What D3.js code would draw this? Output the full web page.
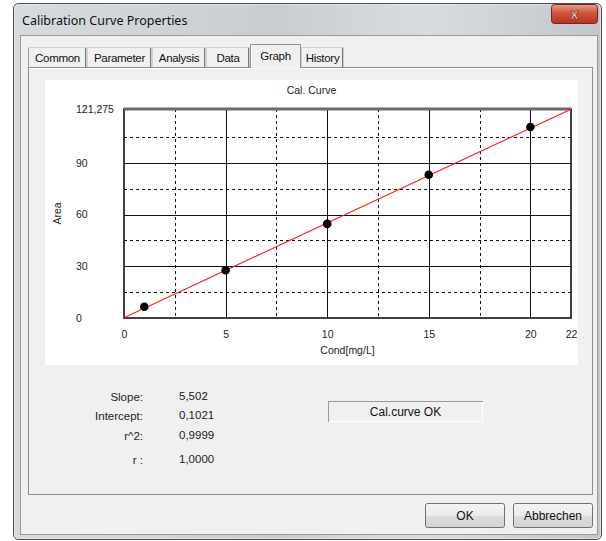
<!DOCTYPE html>
<html><head><meta charset="utf-8">
<script src="https://cdn.jsdelivr.net/npm/d3@7"></script>
<style>
html,body{margin:0;padding:0;background:#fff;}
svg{display:block;font-family:"Liberation Sans",Arial,sans-serif;}
</style></head>
<body>
<svg id="c" width="606" height="541"></svg>
<script>
// ---- data ----
const conc = [1, 5, 10, 15, 20];
const area = [6.5, 27.7, 54.6, 83.1, 110.8];
const slope = 5.502;
const intercept = 0.1021;
const xTicks = [0, 5, 10, 15, 20, 22];
const xMinor = [2.5, 7.5, 12.5, 17.5];
const yTicks = [0, 30, 60, 90, 121.275];
const yTickLabels = ["0", "30", "60", "90", "121,275"];
const yMinor = [15, 45, 75, 105];
const tabs = ["Common", "Parameter", "Analysis", "Data", "Graph", "History"];
const statLabels = ["Slope:", "Intercept:", "r^2:", "r :"];
const statValues = ["5,502", "0,1021", "0,9999", "1,0000"];

const svg = d3.select("#c");
const defs = svg.append("defs");
const tg = defs.append("linearGradient").attr("id","title").attr("x1",0).attr("y1",0).attr("x2",1).attr("y2",0);
tg.append("stop").attr("offset","0").attr("stop-color","#d6dbe0");
tg.append("stop").attr("offset","0.45").attr("stop-color","#c9cdd2");
tg.append("stop").attr("offset","0.7").attr("stop-color","#d9dcdf");
tg.append("stop").attr("offset","1").attr("stop-color","#c2c6cb");
const cg = defs.append("linearGradient").attr("id","close").attr("x1",0).attr("y1",0).attr("x2",0).attr("y2",1);
cg.append("stop").attr("offset","0").attr("stop-color","#e8a08e");
cg.append("stop").attr("offset","0.45").attr("stop-color","#d0543c");
cg.append("stop").attr("offset","1").attr("stop-color","#b8321e");
const bg = defs.append("linearGradient").attr("id","btn").attr("x1",0).attr("y1",0).attr("x2",0).attr("y2",1);
bg.append("stop").attr("offset","0").attr("stop-color","#f4f4f4");
bg.append("stop").attr("offset","0.5").attr("stop-color","#ebebeb");
bg.append("stop").attr("offset","0.51").attr("stop-color","#dddddd");
bg.append("stop").attr("offset","1").attr("stop-color","#d3d3d3");

// window frame
svg.append("rect").attr("x",13.5).attr("y",3.5).attr("width",588).attr("height",536).attr("rx",5)
  .attr("fill","url(#title)").attr("stroke","#4a4a4a");
svg.append("rect").attr("x",14.5).attr("y",4.5).attr("width",586).attr("height",534).attr("rx",4)
  .attr("fill","none").attr("stroke","#eef0f2").attr("stroke-opacity",0.6);
// client area
svg.append("rect").attr("x",20.5).attr("y",35.5).attr("width",577).attr("height",499)
  .attr("fill","#f0f0f0").attr("stroke","#9a9a9a");
svg.append("text").attr("x",22).attr("y",25).attr("font-family","'Noto Sans','Open Sans',sans-serif")
  .attr("font-size",12.5).attr("fill","#111").text("Calibration Curve Properties");
// close button
svg.append("rect").attr("x",551.5).attr("y",4.5).attr("width",46).attr("height",19).attr("rx",3)
  .attr("fill","url(#close)").attr("stroke","#6b2a20");
svg.append("text").attr("x",574.5).attr("y",19).attr("text-anchor","middle").attr("font-size",14)
  .attr("font-weight","bold").attr("fill","#fff").attr("stroke","#5a1a10").attr("stroke-width",0.6).text("x");

// tab panel
svg.append("rect").attr("x",28.5).attr("y",67.5).attr("width",564).attr("height",427)
  .attr("fill","#f0f0f0").attr("stroke","#8e8e8e");
svg.append("line").attr("x1",29.5).attr("x2",591.5).attr("y1",68.5).attr("y2",68.5).attr("stroke","#fff");

// tabs
const tabX = [28, 87, 152, 206, 250, 301, 344];
tabs.forEach((t,i)=>{
  const x0 = tabX[i], x1 = tabX[i+1];
  const sel = t === "Graph";
  const g = svg.append("g");
  if (sel) {
    g.append("path").attr("d",`M${x0+0.5},68 V44.5 H${x1-0.5} V68`).attr("fill","#f0f0f0").attr("stroke","#8e8e8e");
    g.append("line").attr("x1",x0+1).attr("x2",x1-1).attr("y1",67.5).attr("y2",67.5).attr("stroke","#f0f0f0").attr("stroke-width",2);
    g.append("line").attr("x1",x0+1.5).attr("x2",x0+1.5).attr("y1",45).attr("y2",68).attr("stroke","#fff");
  } else {
    g.append("path").attr("d",`M${x0+0.5},67 V47.5 H${x1-0.5} V67`).attr("fill","#f0f0f0").attr("stroke","#d0d0d0");
    g.append("line").attr("x1",x1-1.5).attr("x2",x1-1.5).attr("y1",48).attr("y2",67).attr("stroke","#777");
    if (i === 0) g.append("line").attr("x1",x0+0.5).attr("x2",x0+0.5).attr("y1",48).attr("y2",67).attr("stroke","#999");
  }
  g.append("text").attr("x",(x0+x1)/2).attr("y",sel?60:62).attr("text-anchor","middle")
    .attr("font-size",11.5).attr("letter-spacing",-0.3).attr("fill","#111").text(t);
});

// plot panel
svg.append("rect").attr("x",45).attr("y",80).attr("width",533).attr("height",285).attr("fill","#fff");

const x = d3.scaleLinear().domain([0,22]).range([124,571]);
const y = d3.scaleLinear().domain([0,121.275]).range([318,109]);

// grid
const grid = svg.append("g");
grid.selectAll(".vmin").data(xMinor).join("line").attr("x1",d=>Math.round(x(d))+0.5).attr("x2",d=>Math.round(x(d))+0.5)
  .attr("y1",y(121.275)).attr("y2",y(0)).attr("stroke","#111").attr("stroke-dasharray","3,3");
grid.selectAll(".hmin").data(yMinor).join("line").attr("y1",d=>Math.round(y(d))+0.5).attr("y2",d=>Math.round(y(d))+0.5)
  .attr("x1",x(0)).attr("x2",x(22)).attr("stroke","#111").attr("stroke-dasharray","3,3");
grid.selectAll(".vmaj").data([5,10,15,20]).join("line").attr("x1",d=>Math.round(x(d))+0.5).attr("x2",d=>Math.round(x(d))+0.5)
  .attr("y1",y(121.275)).attr("y2",y(0)).attr("stroke","#111");
grid.selectAll(".hmaj").data([30,60,90]).join("line").attr("y1",d=>Math.round(y(d))+0.5).attr("y2",d=>Math.round(y(d))+0.5)
  .attr("x1",x(0)).attr("x2",x(22)).attr("stroke","#111");
// frame
svg.append("rect").attr("x",x(0)).attr("y",y(121.275)).attr("width",x(22)-x(0)).attr("height",y(0)-y(121.275))
  .attr("fill","none").attr("stroke","#111").attr("stroke-width",1.6);
svg.append("line").attr("x1",x(0)).attr("x2",x(22)).attr("y1",y(121.275)).attr("y2",y(121.275))
  .attr("stroke","#6a6a6a").attr("stroke-width",3);

// axes (labels only)
const xAxis = svg.append("g").attr("transform",`translate(0,${y(0)+10})`)
  .call(d3.axisBottom(x).tickValues(xTicks).tickSize(0).tickFormat(d3.format("d")));
xAxis.select(".domain").remove();
xAxis.selectAll("text").attr("font-size",10.5).attr("fill","#222").attr("font-family","'Liberation Sans',Arial,sans-serif");

const yAxis = svg.append("g").attr("transform",`translate(76,0)`)
  .call(d3.axisRight(y).tickValues(yTicks).tickSize(0).tickPadding(0).tickFormat((d,i)=>yTickLabels[i]));
yAxis.select(".domain").remove();
yAxis.selectAll("text").attr("font-size",10.5).attr("fill","#222").attr("font-family","'Liberation Sans',Arial,sans-serif");

// titles
svg.append("text").attr("x",311.5).attr("y",94).attr("text-anchor","middle").attr("font-size",10.5).attr("fill","#222").text("Cal. Curve");
svg.append("text").attr("x",(x(0)+x(22))/2).attr("y",354).attr("text-anchor","middle").attr("font-size",10.5).attr("fill","#222").text("Cond[mg/L]");
svg.append("text").attr("transform",`translate(61,${(y(0)+y(121.275))/2}) rotate(-90)`).attr("text-anchor","middle")
  .attr("font-size",10.5).attr("fill","#222").text("Area");

// regression line
svg.append("line").attr("x1",x(0)).attr("y1",y(intercept)).attr("x2",x(22)).attr("y2",y(slope*22+intercept))
  .attr("stroke","#ff1a1a").attr("stroke-width",1.1);
// points
svg.selectAll(".pt").data(conc).join("circle").attr("cx",d=>x(d)).attr("cy",(d,i)=>y(area[i])).attr("r",4.3).attr("fill","#000");

// stats
const statY = [401, 420, 440, 464];
statLabels.forEach((t,i)=>{
  svg.append("text").attr("x",143).attr("y",statY[i]).attr("text-anchor","end").attr("font-size",11.5).attr("fill","#222").text(t);
  svg.append("text").attr("x",179).attr("y",statY[i]-1).attr("font-size",11.5).attr("fill","#222").text(statValues[i]);
});
// status box
svg.append("rect").attr("x",328.5).attr("y",401.5).attr("width",154).attr("height",20).attr("fill","#f0f0f0").attr("stroke","#9a9a9a");
svg.append("path").attr("d","M329,421.5 H483 M482.5,402 V422").attr("stroke","#fff");
svg.append("text").attr("x",405.5).attr("y",416).attr("text-anchor","middle").attr("font-size",12).attr("fill","#111").text("Cal.curve OK");

// buttons
[[425,505,"OK"],[513,593,"Abbrechen"]].forEach(([a,b,t])=>{
  svg.append("rect").attr("x",a+0.5).attr("y",503.5).attr("width",b-a-1).attr("height",24).attr("rx",2)
    .attr("fill","url(#btn)").attr("stroke","#707070");
  svg.append("text").attr("x",(a+b)/2).attr("y",520).attr("text-anchor","middle").attr("font-size",12).attr("fill","#111").text(t);
});
</script>
</body></html>
